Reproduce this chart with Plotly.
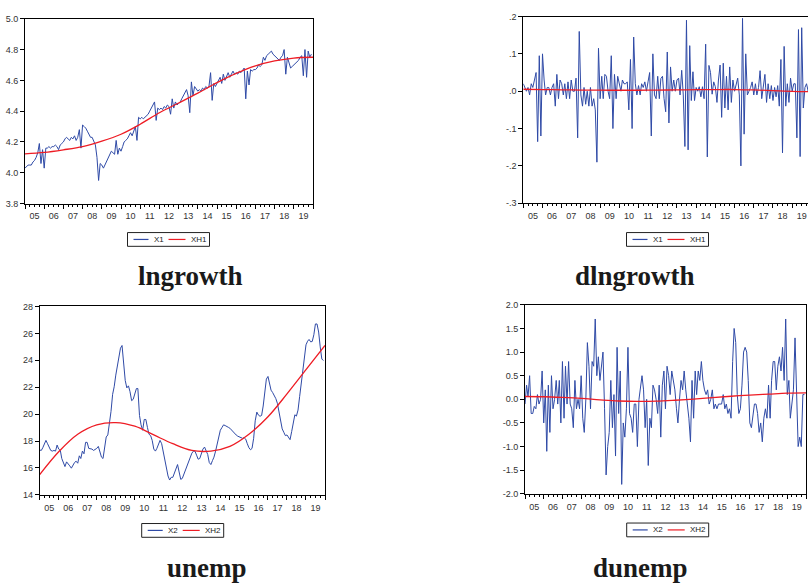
import pandas as pd
import plotly.graph_objects as go

# ---------------- data ----------------
months = pd.date_range("2005-01-01", periods=180, freq="MS")
trend_dates = pd.date_range("2005-01-01", periods=16, freq="YS")

x1 = [
    4.03, 4.04, 4.05, 4.05, 4.05, 4.07, 4.08, 4.10, 4.13, 4.19, 4.06, 4.15,
    4.03, 4.16, 4.16, 4.17, 4.16, 4.17, 4.17, 4.18, 4.17, 4.15, 4.18, 4.19,
    4.20, 4.22, 4.23, 4.22, 4.21, 4.23, 4.22, 4.24, 4.21, 4.23, 4.28, 4.16,
    4.31, 4.30, 4.29, 4.27, 4.25, 4.23, 4.23, 4.21, 4.18, 4.10, 3.95, 4.06,
    4.05, 4.03, 4.05, 4.07, 4.10, 4.12, 4.14, 4.13, 4.12, 4.21, 4.12, 4.16,
    4.14, 4.17, 4.20, 4.21, 4.22, 4.24, 4.26, 4.24, 4.27, 4.30, 4.21, 4.36,
    4.35, 4.36, 4.35, 4.36, 4.37, 4.38, 4.40, 4.42, 4.44, 4.46, 4.34, 4.42,
    4.41, 4.42, 4.41, 4.43, 4.42, 4.44, 4.43, 4.38, 4.48, 4.42, 4.46, 4.44,
    4.45, 4.46, 4.48, 4.50, 4.52, 4.54, 4.50, 4.39, 4.59, 4.50, 4.56, 4.54,
    4.53, 4.54, 4.53, 4.55, 4.54, 4.56, 4.55, 4.56, 4.65, 4.47, 4.58, 4.56,
    4.58, 4.60, 4.62, 4.58, 4.64, 4.60, 4.63, 4.65, 4.62, 4.64, 4.66, 4.64,
    4.65, 4.64, 4.66, 4.65, 4.67, 4.68, 4.48, 4.66, 4.57, 4.67, 4.66, 4.67,
    4.67, 4.68, 4.70, 4.69, 4.70, 4.75, 4.73, 4.76, 4.77, 4.78, 4.79, 4.77,
    4.76, 4.75, 4.74, 4.73, 4.75, 4.76, 4.80, 4.64, 4.75, 4.72, 4.68, 4.69,
    4.70, 4.71, 4.72, 4.73, 4.75, 4.76, 4.63, 4.80, 4.62, 4.79, 4.75, 4.77,
]
xh1 = [4.123, 4.132, 4.149, 4.170, 4.205, 4.250, 4.315, 4.390, 4.453,
       4.517, 4.585, 4.645, 4.694, 4.726, 4.745, 4.750]

dx1 = [
    0.02, 0.01, 0.00, 0.01, -0.01, 0.02, 0.01, 0.03, 0.05, -0.135, 0.095, -0.12,
    0.10, 0.03, -0.01, 0.01, 0.01, -0.01, 0.01, 0.02, -0.04, 0.045, -0.02, 0.03,
    0.02, -0.01, 0.02, -0.02, 0.025, -0.02, 0.03, 0.00, 0.00, 0.035, -0.125, 0.16,
    -0.01, -0.04, 0.01, -0.035, 0.00, -0.04, 0.01, -0.04, -0.02, -0.05, -0.19, 0.115,
    -0.02, 0.04, -0.02, 0.045, 0.04, 0.00, -0.02, 0.095, -0.10, 0.045, -0.02, 0.04,
    0.02, 0.00, 0.03, 0.02, 0.02, 0.025, -0.05, 0.085, -0.10, 0.145, 0.02, -0.01,
    0.015, -0.01, 0.02, 0.01, 0.025, 0.00, 0.025, 0.05, -0.12, 0.10, -0.01, -0.02,
    0.04, -0.02, 0.034, 0.04, -0.02, -0.055, 0.105, -0.085, 0.065, 0.00, 0.03, 0.00,
    0.03, 0.035, -0.01, 0.056, -0.01, -0.148, 0.19, -0.157, 0.122, -0.025, 0.052, -0.025,
    0.01, 0.00, 0.012, -0.015, 0.012, -0.02, 0.126, -0.176, 0.069, 0.05, -0.008, 0.025,
    0.012, -0.03, 0.03, 0.07, -0.07, 0.075, -0.045, 0.04, -0.05, 0.065, -0.03, 0.03,
    0.00, 0.015, 0.035, -0.01, -0.20, 0.195, -0.115, 0.10, -0.01, 0.00, 0.01, 0.025,
    -0.01, 0.02, -0.01, 0.01, 0.055, -0.02, 0.01, 0.045, -0.03, 0.02, -0.02, 0.015,
    -0.025, 0.01, -0.015, 0.015, -0.04, 0.085, -0.165, 0.12, -0.04, 0.02, -0.03, 0.035,
    0.00, 0.02, 0.02, -0.125, 0.165, -0.175, 0.17, -0.045, 0.01, 0.02, 0.00, 0.02,
]
dxh1 = [0.0053, 0.0045, 0.0038, 0.0030, 0.0027, 0.0025, 0.0026, 0.0030,
        0.0035, 0.0040, 0.0044, 0.0045, 0.0035, 0.0015, -0.0005, -0.0015]

x2 = [
    17.33, 17.30, 17.50, 17.80, 18.05, 17.80, 17.50, 17.30, 17.25, 17.30, 17.25, 17.70,
    17.40, 17.30, 16.70, 16.40, 16.10, 16.45, 16.25, 16.15, 15.98, 16.20, 16.40, 16.50,
    16.35, 16.90, 16.70, 17.25, 17.05, 17.90, 17.90, 17.45, 17.45, 17.40, 17.30, 17.35,
    17.45, 17.60, 17.20, 16.80, 16.70, 17.50, 18.30, 18.45, 19.30, 20.20, 21.47, 22.03,
    22.90, 23.50, 24.30, 24.90, 25.10, 23.80, 22.50, 21.95, 22.10, 21.67, 21.00, 21.10,
    21.60, 21.90, 21.90, 19.90, 19.20, 18.80, 19.60, 19.60, 19.00, 18.50, 18.40, 18.05,
    17.40, 17.25, 17.45, 17.85, 18.05, 17.80, 17.20, 16.50, 15.85, 15.40, 15.10, 15.30,
    15.30, 15.60, 15.95, 16.25, 15.70, 15.15, 15.22, 15.55, 15.90, 16.15, 16.45, 16.85,
    17.10, 17.25, 17.25, 16.95, 16.65, 16.70, 17.00, 17.40, 17.55, 17.30, 17.00, 16.40,
    16.25, 16.55, 16.80, 17.25, 17.75, 18.40, 18.80, 19.00, 19.20, 19.15, 19.05, 19.02,
    18.95, 18.80, 18.70, 18.60, 18.45, 18.36, 18.30, 18.25, 18.20, 18.25, 18.14, 17.80,
    17.50, 17.35, 17.45, 18.20, 19.50, 20.15, 19.93, 19.84, 19.90, 20.60, 21.55, 22.60,
    22.80, 22.35, 21.78, 21.60, 21.40, 21.15, 20.80, 20.10, 19.25, 18.90, 18.65, 18.40,
    18.45, 18.20, 18.10, 18.70, 19.30, 19.95, 19.85, 20.30, 21.30, 22.20, 23.20, 24.40,
    25.15, 25.42, 25.55, 25.37, 25.40, 25.90, 26.70, 26.70, 26.10, 25.00, 24.10, 23.98,
]
xh2 = [15.5, 17.2, 18.5, 19.2, 19.37, 19.1, 18.45, 17.8, 17.3, 17.25,
       17.6, 18.5, 19.8, 21.5, 23.3, 25.1]

dx2 = [
    -0.1, 0.3, 0.05, 0.5, -0.3, -0.3, -0.15, -0.2, 0.1, -0.1, 0.0, 0.6,
    -0.5, 0.2, -1.1, 0.3, -0.7, 0.5, -0.2, 0.0, 0.4, -0.1, 0.4, -0.5,
    0.8, -0.4, 0.7, -0.1, 0.8, -0.1, -0.2, -0.6, 0.4, -0.2, 0.0, -0.2,
    0.5, -0.4, -0.7, 0.0, 1.2, 0.7, -0.2, 0.8, 0.7, 1.7, 0.5, 0.9,
    0.4, 0.8, 1.0, -0.2, -1.6, -1.0, -0.7, 0.4, -0.6, 0.1, -1.2, 1.1,
    -0.3, 0.6, -1.8, -0.5, -0.8, -0.2, 1.1, -0.3, -0.4, -0.7, -0.1, -0.1,
    -1.0, 0.0, 0.3, 0.5, 0.2, -0.6, 0.0, -1.4, -0.4, -0.6, 0.3, 0.2,
    0.0, -0.3, 0.3, -0.8, 0.3, 0.6, -0.2, 0.7, 0.5, 0.1, 0.6, 0.4,
    0.2, -0.2, -0.5, 0.0, 0.4, 0.2, 0.6, 0.2, -0.1, -0.4, -0.9, 0.4,
    -0.4, 0.6, 0.1, 0.6, 0.4, 0.8, 0.4, 0.2, 0.1, 0.2, -0.1, 0.0,
    0.2, -0.2, -0.1, -0.2, -0.1, -0.1, -0.1, 0.1, -0.2, -0.1, -0.3, -0.2,
    -0.4, 0.8, 1.5, 1.2, 0.1, -0.3, -0.2, 0.3, 1.0, 1.1, 1.0, 0.4,
    -0.5, -0.6, -0.3, -0.1, -0.1, -0.3, -0.7, -0.5, -0.9, -0.4, -0.2, -0.4,
    0.3, -0.4, 0.4, 0.8, 0.8, 0.2, 0.7, 0.9, 0.6, 1.1, 0.4, 1.7,
    0.1, 0.4, -0.4, 0.0, 0.2, 1.3, 0.2, -1.0, -0.8, -1.0, 0.1, 0.1,
]
dxh2 = [0.06, 0.055, 0.04, 0.02, -0.01, -0.035, -0.045, -0.04, -0.02,
        0.005, 0.035, 0.065, 0.09, 0.11, 0.13, 0.135]

titles = ["lngrowth", "dlngrowth", "unemp", "dunemp"]
legend_names = [("X1", "XH1"), ("X1", "XH1"), ("X2", "XH2"), ("X2", "XH2")]

# ---------------- figure ----------------
W, H = 808, 588
BLUE = "#2f4aa6"
RED = "#ee1c24"


def px(x):
    return x / W


def py(y):
    return 1 - y / H


fig = go.Figure()

panels = [
    (x1, xh1, (25, 313), (14, 202), (3.8, 5.0),
     [3.8, 4.0, 4.2, 4.4, 4.6, 4.8, 5.0], None, "2020-01-01", True),
    (dx1, dxh1, (523.3, 808), (11.7, 201.7), (-0.3, 0.2),
     [-0.3, -0.2, -0.1, 0.0, 0.1, 0.2], ["-.3", "-.2", "-.1", ".0", ".1", ".2"],
     "2019-10-29", False),
    (x2, xh2, (39.7, 325), (306.7, 498.3), (14, 28),
     [14, 16, 18, 20, 22, 24, 26, 28], None, "2020-01-01", True),
    (dx2, dxh2, (525, 806), (305, 497.3), (-2.0, 2.0),
     [-2.0, -1.5, -1.0, -0.5, 0.0, 0.5, 1.0, 1.5, 2.0],
     ["-2.0", "-1.5", "-1.0", "-0.5", "0.0", "0.5", "1.0", "1.5", "2.0"],
     "2020-01-01", True),
]

tickfont = dict(family="Liberation Sans, Arial", size=9, color="#333333")

for k, (ser, tr, xd, yd, yr, tv, tt, xend, mir) in enumerate(panels):
    n = "" if k == 0 else str(k + 1)
    fig.add_trace(go.Scatter(x=months, y=ser, mode="lines",
                             name=legend_names[k][0],
                             line=dict(color=BLUE, width=1),
                             xaxis="x" + n, yaxis="y" + n, showlegend=False))
    fig.add_trace(go.Scatter(x=trend_dates, y=tr, mode="lines",
                             name=legend_names[k][1],
                             line=dict(color=RED, width=1.3, shape="spline"),
                             xaxis="x" + n, yaxis="y" + n, showlegend=False))
    fig.layout["xaxis" + n] = dict(
        domain=[px(xd[0]), min(1.0, px(xd[1]))], anchor="y" + n, type="date",
        range=["2005-01-01", xend], showline=True, linecolor="black",
        linewidth=1, mirror=True, ticks="outside", ticklen=4, tickwidth=1,
        tickcolor="black", dtick="M12", tick0="2005-01-01", tickformat="%y",
        ticklabelmode="period", tickfont=tickfont, showgrid=False,
        zeroline=False,
        minor=dict(dtick="M3", tick0="2005-01-01", ticks="outside", ticklen=2,
                   tickcolor="black", showgrid=False),
    )
    yax = dict(
        domain=[py(yd[1]), py(yd[0])], anchor="x" + n, range=list(yr),
        showline=True, linecolor="black", linewidth=1, mirror=mir,
        ticks="outside", ticklen=4, tickcolor="black", tickvals=tv,
        tickfont=tickfont, showgrid=False, zeroline=False,
        tickformat=".1f" if k != 2 else "d",
    )
    if tt is not None:
        yax["ticktext"] = tt
    fig.layout["yaxis" + n] = yax

# ---- legends (boxed, EViews style) ----
legend_boxes = [(127.5, 231.5), (626.5, 231.5), (141.7, 527.5), (626.7, 527.0)]
legfont = dict(family="Liberation Sans, Arial", size=8, color="#222222")
for (L, T), (n1, n2) in zip(legend_boxes, legend_names):
    fig.add_shape(type="rect", xref="paper", yref="paper",
                  x0=px(L), x1=px(L + 82), y0=py(T), y1=py(T + 14),
                  line=dict(color="#222222", width=1), fillcolor="white")
    ym = py(T + 7)
    fig.add_shape(type="line", xref="paper", yref="paper",
                  x0=px(L + 6), x1=px(L + 21), y0=ym, y1=ym,
                  line=dict(color=BLUE, width=1.2))
    fig.add_shape(type="line", xref="paper", yref="paper",
                  x0=px(L + 41), x1=px(L + 58), y0=ym, y1=ym,
                  line=dict(color=RED, width=1.2))
    fig.add_annotation(text=n1, x=px(L + 24), y=ym, xref="paper",
                       yref="paper", xanchor="left", yanchor="middle",
                       showarrow=False, font=legfont)
    fig.add_annotation(text=n2, x=px(L + 61), y=ym, xref="paper",
                       yref="paper", xanchor="left", yanchor="middle",
                       showarrow=False, font=legfont)

title_pos = [(190.5, 276), (634.5, 276), (206.5, 573), (640, 573)]
for t, (tx, ty) in zip(titles, title_pos):
    fig.add_annotation(text="<b>%s</b>" % t, x=px(tx), y=py(ty),
                       xref="paper", yref="paper", xanchor="center",
                       yanchor="middle", showarrow=False,
                       font=dict(family="Liberation Serif, Times New Roman",
                                 size=27, color="#1a1a1a"))

fig.update_layout(width=W, height=H, margin=dict(l=0, r=0, t=0, b=0),
                  paper_bgcolor="white", plot_bgcolor="white")

fig.write_html(
    "out.html",
    config={"displayModeBar": False, "staticPlot": True},
    post_script="document.body.style.margin='0';"
                "document.body.style.overflow='hidden';",
)
